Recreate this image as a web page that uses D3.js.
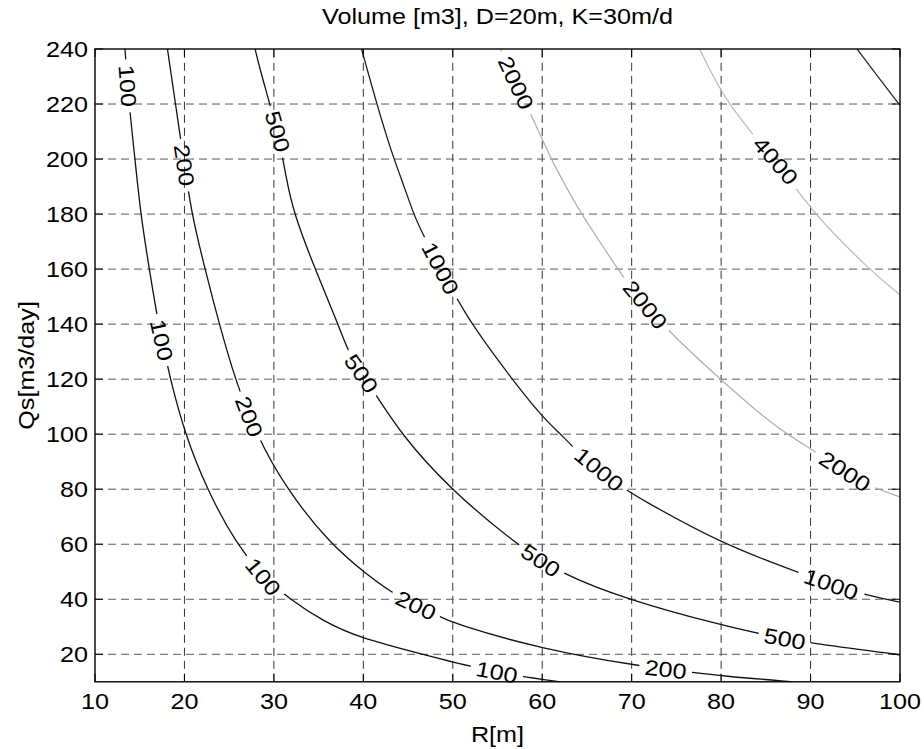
<!DOCTYPE html>
<html>
<head>
<meta charset="utf-8">
<script src="https://cdn.jsdelivr.net/npm/d3@7"></script>
<style>
  body { margin: 0; background: #fff; }
  svg { display: block; }
  text { font-family: "Liberation Sans", Arial, Helvetica, sans-serif; fill: #000; }
</style>
</head>
<body>
<svg id="chart" width="924" height="749"></svg>
<script>
// Axis ticks
const xTicks = [10, 20, 30, 40, 50, 60, 70, 80, 90, 100];
const yTicks = [20, 40, 60, 80, 100, 120, 140, 160, 180, 200, 220, 240];

// Contour lines: [R (m), Qs (m3/day)] points for each volume level
const c100 = [[13.35,240],[13.8,220],[14.47,200],[15.1,180],[16.07,160],[17.08,140],[18.4,120],[20.07,100],[22.5,80],[25.8,60],[28.8,48.2],[31.8,40],[35.5,32],[39.6,25.9],[46.6,20],[52.7,14.9],[57.5,12],[62,10]];
const c200 = [[18.1,240],[19.0,220],[19.9,200],[20.8,180],[22.3,160],[23.9,140],[25.65,120],[28.0,100],[31.4,80],[36.3,60],[40.7,48.2],[43.5,41.5],[48.2,34.3],[49.9,31.3],[60.06,21.8],[70.9,15.7],[76.2,13.7],[80,12.1],[88.1,10]];
const c500 = [[27.9,240],[28.4,233],[30.6,208],[31.4,192.4],[32.25,180],[34.6,160],[37.2,140],[38.5,128],[41.1,116],[44.2,100],[49.7,80],[57.1,60],[62.0,49.4],[69.4,40],[80,30.6],[84.9,27],[89.6,24.2],[99.6,20],[100,19.8]];
const c1000 = [[39.8,240],[41.5,220],[43.2,202],[44.1,194.2],[45.6,180.3],[46.3,174.8],[50.1,151.2],[52.1,140],[56.6,120],[60.3,105.2],[62.0,100.3],[63.5,94.9],[68.7,80.9],[70.9,76.7],[79.9,60.3],[89.4,48.8],[95.2,42.2],[99.8,39.1],[100,39]];
const c2000 = [[55.3,240],[58.4,218.5],[60.05,207],[61.2,198.5],[64.1,181.5],[65.5,174.6],[68.3,160.7],[69.4,155.5],[73.7,138.5],[79.9,120],[85.1,105.2],[88.1,98.5],[89.9,94.9],[96.5,80.9],[100,77.2]];
const c4000 = [[77.6,240],[80.6,220],[86.1,199.4],[89.9,182.4],[92.2,174.2],[96.3,160.7],[100,150.6]];
const c6000 = [[95.2,240],[97.4,230.5],[100,219.5]];

const levels = [100, 200, 500, 1000, 2000, 4000, 6000];
const lineColors = ["#111", "#111", "#111", "#1a1a1a", "#b2b2b2", "#bdbdbd", "#2a2a2a"];

// Inline label anchors [R, Qs] for each labelled level
const lab100 = [[13.7,226.6],[17.45,134.2],[28.8,48.2],[54.9,13.2]];
const lab200 = [[20.1,197.8],[26.9,106],[45.8,37.3],[73.8,14.6]];
const lab500 = [[30.4,210],[39.8,122.1],[59.75,53.7],[87.1,25.4]];
const lab1000 = [[48.6,160.3],[66.3,87],[92.2,44.6]];
const lab2000 = [[56.8,227.3],[71.5,147],[93.7,85.8]];
const lab4000 = [[86.1,199.4]];

const lines = [c100, c200, c500, c1000, c2000, c4000, c6000];
const labels = [lab100, lab200, lab500, lab1000, lab2000, lab4000, []];

const W = 924, H = 749;
const m = { left: 95, right: 900, top: 49, bottom: 681.8 };
const x = d3.scaleLinear().domain([10, 100]).range([m.left, m.right]);
const y = d3.scaleLinear().domain([10, 240]).range([m.bottom, m.top]);

const svg = d3.select("#chart");
const FS = 21.5, STRETCH = 1.17;

function stretchText(sel, k) {
  sel.each(function () {
    const len = this.getComputedTextLength();
    d3.select(this).attr("textLength", len * k).attr("lengthAdjust", "spacingAndGlyphs");
  });
}

const defs = svg.append("defs");
defs.append("clipPath").attr("id", "plotClip")
  .append("rect").attr("x", m.left).attr("y", m.top)
  .attr("width", m.right - m.left).attr("height", m.bottom - m.top);

// Grid
const grid = svg.append("g").attr("stroke-dasharray", "8,5").attr("fill", "none");
xTicks.filter(d => d > 10 && d < 100).forEach(d => {
  grid.append("line").attr("x1", x(d)).attr("x2", x(d))
    .attr("y1", m.bottom).attr("y2", m.top)
    .attr("stroke", "#333").attr("stroke-width", 1);
});
yTicks.filter(d => d < 240).forEach(d => {
  grid.append("line").attr("x1", m.left).attr("x2", m.right)
    .attr("y1", y(d)).attr("y2", y(d))
    .attr("stroke", "#5a5a5a").attr("stroke-width", 1);
});

// Label placement: snap to the contour polyline and follow its direction
function place(pts, spot) {
  const sp = pts.map(p => [x(p[0]), y(p[1])]);
  const px = x(spot[0]), py = y(spot[1]);
  let best = null;
  for (let i = 0; i < sp.length - 1; i++) {
    const [ax, ay] = sp[i], [bx, by] = sp[i + 1];
    const dx = bx - ax, dy = by - ay;
    const t = Math.max(0, Math.min(1, ((px - ax) * dx + (py - ay) * dy) / (dx * dx + dy * dy)));
    const qx = ax + t * dx, qy = ay + t * dy;
    const d2 = (qx - px) ** 2 + (qy - py) ** 2;
    if (!best || d2 < best.d2) best = { d2, qx, qy, ang: Math.atan2(dy, dx) * 180 / Math.PI };
  }
  let a = best.ang;
  if (a > 90) a -= 180;
  if (a < -90) a += 180;
  return { cx: best.qx, cy: best.qy, ang: a };
}

const placed = [];
lines.forEach((pts, i) => {
  labels[i].forEach(s => placed.push({ level: levels[i], ...place(pts, s) }));
});

// Label text (measured first so gaps can be cut in the lines)
const labG = svg.append("g");
placed.forEach(p => {
  const t = labG.append("text")
    .attr("text-anchor", "middle")
    .attr("dy", "0.36em")
    .attr("font-size", FS)
    .attr("transform", `translate(${p.cx},${p.cy}) rotate(${p.ang})`)
    .text(p.level);
  stretchText(t, STRETCH);
  p.w = t.node().getComputedTextLength() * STRETCH;
});

const mask = defs.append("mask").attr("id", "labelGaps").attr("maskUnits", "userSpaceOnUse")
  .attr("x", 0).attr("y", 0).attr("width", W).attr("height", H);
mask.append("rect").attr("x", 0).attr("y", 0).attr("width", W).attr("height", H).attr("fill", "#fff");
placed.forEach(p => {
  mask.append("rect")
    .attr("x", -p.w / 2 - 2).attr("y", -9).attr("width", p.w + 4).attr("height", 18)
    .attr("transform", `translate(${p.cx},${p.cy}) rotate(${p.ang})`)
    .attr("fill", "#000");
});

// Contour lines
const lineGen = d3.line().x(d => x(d[0])).y(d => y(d[1])).curve(d3.curveBasis);
const cg = svg.insert("g", () => labG.node())
  .attr("clip-path", "url(#plotClip)")
  .append("g").attr("mask", "url(#labelGaps)");
lines.forEach((pts, i) => {
  cg.append("path").attr("d", lineGen(pts))
    .attr("fill", "none").attr("stroke", lineColors[i]).attr("stroke-width", 1.3);
});

// Axes box and inward ticks
const ax = svg.append("g").attr("stroke", "#000").attr("fill", "none");
ax.append("rect").attr("x", m.left).attr("y", m.top)
  .attr("width", m.right - m.left).attr("height", m.bottom - m.top).attr("stroke-width", 1.4);
const TL = 8;
xTicks.forEach(d => {
  ax.append("line").attr("x1", x(d)).attr("x2", x(d)).attr("y1", m.bottom).attr("y2", m.bottom - TL);
  ax.append("line").attr("x1", x(d)).attr("x2", x(d)).attr("y1", m.top).attr("y2", m.top + TL);
});
yTicks.forEach(d => {
  ax.append("line").attr("x1", m.left).attr("x2", m.left + TL).attr("y1", y(d)).attr("y2", y(d));
  ax.append("line").attr("x1", m.right).attr("x2", m.right - TL).attr("y1", y(d)).attr("y2", y(d));
});

// Tick labels
const xl = svg.append("g").selectAll("text").data(xTicks).join("text")
  .attr("x", d => x(d)).attr("y", m.bottom + 27.5)
  .attr("text-anchor", "middle").attr("font-size", FS).text(d => d);
stretchText(xl, STRETCH);
const yl = svg.append("g").selectAll("text").data(yTicks).join("text")
  .attr("x", m.left - 7).attr("y", d => y(d)).attr("dy", "0.36em")
  .attr("text-anchor", "end").attr("font-size", FS).text(d => d);
stretchText(yl, STRETCH);

// Titles
const title = svg.append("text").attr("x", (m.left + m.right) / 2).attr("y", 24)
  .attr("text-anchor", "middle").attr("font-size", FS)
  .text("Volume [m3], D=20m, K=30m/d");
stretchText(title, STRETCH);
const xt = svg.append("text").attr("x", (m.left + m.right) / 2).attr("y", 742)
  .attr("text-anchor", "middle").attr("font-size", FS).text("R[m]");
stretchText(xt, STRETCH);
const yt = svg.append("text")
  .attr("transform", `translate(34,${(m.top + m.bottom) / 2}) rotate(-90)`)
  .attr("text-anchor", "middle").attr("font-size", FS).text("Qs[m3/day]");
stretchText(yt, STRETCH);
</script>
</body>
</html>
